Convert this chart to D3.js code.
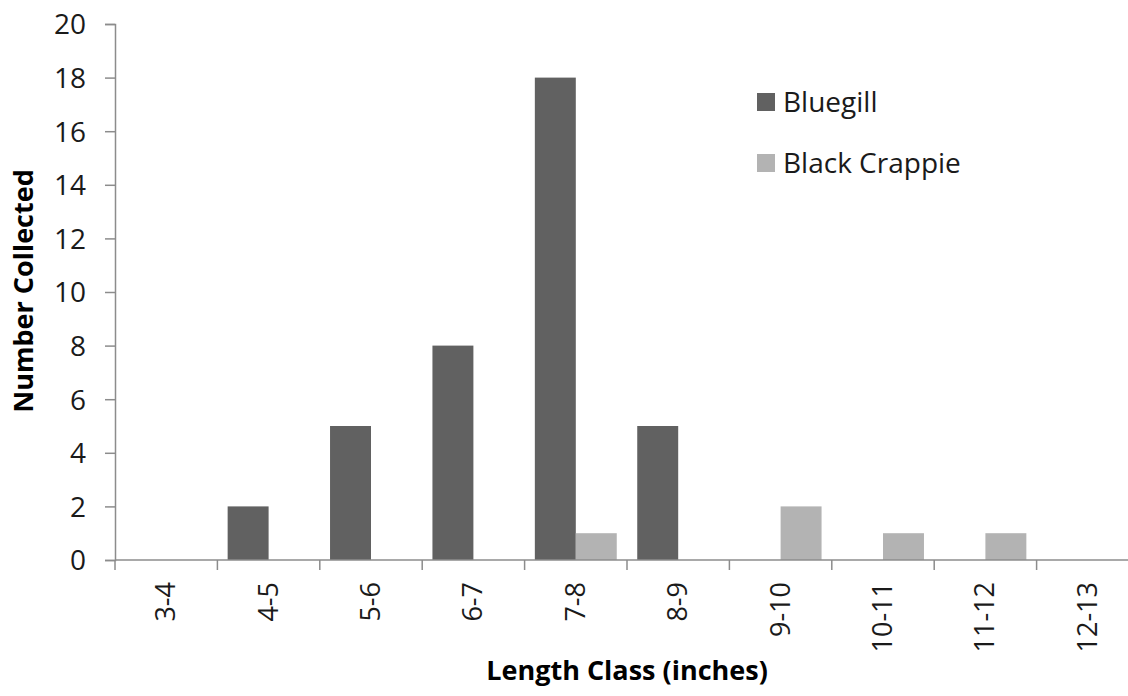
<!DOCTYPE html>
<html><head><meta charset="utf-8">
<script src="https://cdn.jsdelivr.net/npm/d3@7"></script>
<style>body{margin:0;background:#fff}svg{display:block}text{font-family:"Open Sans",sans-serif}</style>
</head><body><svg id="c" width="1128" height="696"></svg>
<script>
const categories = ["3-4","4-5","5-6","6-7","7-8","8-9","9-10","10-11","11-12","12-13"];
const seriesNames = ["Bluegill","Black Crappie"];
const bluegill = [0,2,5,8,18,5,0,0,0,0];
const blackCrappie = [0,0,0,0,1,0,2,1,1,0];
const yTicks = [0,2,4,6,8,10,12,14,16,18,20];
const colors = ["#616161","#b3b3b3"];
const axisColor = "#8c8c8c";

(function(){
const svg = d3.select("#c");
const mLeft = 115, mRight = 1139, mTop = 24, mBottom = 560;
const x = d3.scaleBand().domain(categories).range([mLeft, mRight]).paddingInner(0.2).paddingOuter(0.1);
const xStep = d3.scaleBand().domain(categories).range([mLeft, mRight]);
const xSub = d3.scaleBand().domain(seriesNames).range([0, x.bandwidth()]);
const y = d3.scaleLinear().domain([0,20]).range([mBottom, mTop]);

const data = [bluegill, blackCrappie];
seriesNames.forEach((s, i) => {
  svg.append("g").selectAll("rect").data(categories).join("rect")
    .attr("x", c => x(c) + xSub(s))
    .attr("y", (c, j) => y(data[i][j]))
    .attr("width", xSub.bandwidth())
    .attr("height", (c, j) => y(0) - y(data[i][j]))
    .attr("fill", colors[i]);
});

const ya = svg.append("g").attr("transform", `translate(${mLeft},0)`)
  .call(d3.axisLeft(y).tickValues(yTicks).tickSize(10).tickPadding(19));
ya.select(".domain").attr("stroke", axisColor).attr("stroke-width", 1.5);
ya.selectAll(".tick line").attr("stroke", axisColor).attr("stroke-width", 1.5);
ya.selectAll(".tick text").attr("font-size", 28).attr("fill", "#1a1a1a").attr("font-family", "Open Sans").attr("dy", "0.35em");

svg.append("line").attr("x1", mLeft).attr("x2", mRight).attr("y1", mBottom).attr("y2", mBottom)
  .attr("stroke", axisColor).attr("stroke-width", 1.5);
const boundaries = categories.map(c => xStep(c));
svg.append("g").selectAll("line").data(boundaries).join("line")
  .attr("x1", d => d).attr("x2", d => d).attr("y1", mBottom).attr("y2", mBottom + 10)
  .attr("stroke", axisColor).attr("stroke-width", 1.5);
svg.append("g").selectAll("text").data(categories).join("text")
  .attr("transform", c => `translate(${xStep(c) + xStep.bandwidth()/2 + 9},582) rotate(-90)`)
  .attr("text-anchor", "end").attr("font-size", 27).attr("fill", "#1a1a1a")
  .text(c => c);

svg.append("text").attr("x", (mLeft+mRight)/2).attr("y", 680).attr("text-anchor", "middle")
  .attr("font-size", 27).attr("font-weight", "bold").attr("fill", "#000").text("Length Class (inches)");
svg.append("text").attr("transform", "translate(33,291) rotate(-90)").attr("text-anchor", "middle")
  .attr("font-size", 27).attr("font-weight", "bold").attr("fill", "#000").text("Number Collected");

const lg = svg.append("g").selectAll("g").data(seriesNames).join("g")
  .attr("transform", (d, i) => `translate(757,${93 + i*61})`);
lg.append("rect").attr("width", 18).attr("height", 18).attr("fill", (d, i) => colors[i]);
lg.append("text").attr("x", 26).attr("y", 19).attr("font-size", 28).attr("fill", "#1a1a1a").text(d => d);
})();
</script></body></html>
